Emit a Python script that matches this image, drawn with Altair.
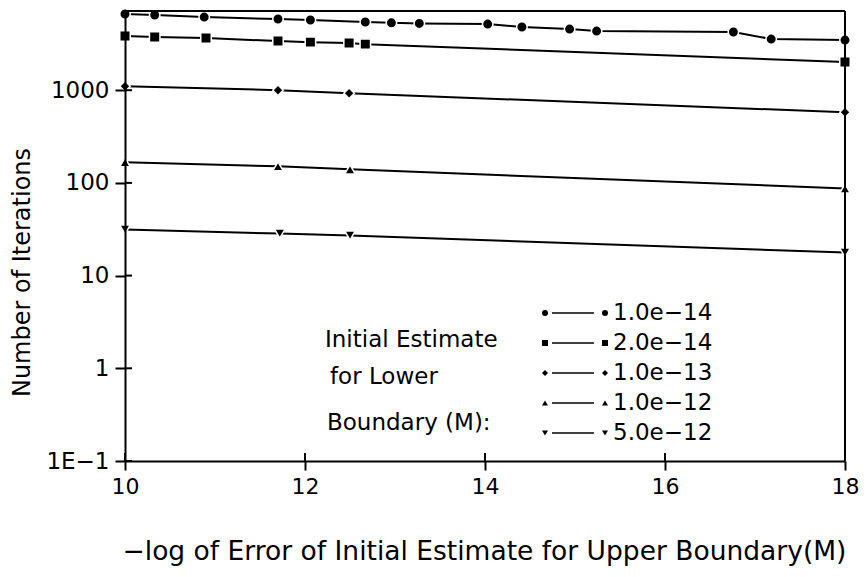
import altair as alt
import pandas as pd

FONT = "DejaVu Sans"

# ---- data ----
labels = ["1.0e\u221214", "2.0e\u221214", "1.0e\u221213", "1.0e\u221212", "5.0e\u221212"]
shapes = ["circle", "square", "diamond", "triangle-up", "triangle-down"]
sizes = [110, 110, 100, 100, 90]

x1 = [10.0, 10.33, 10.88, 11.70, 12.06, 12.67, 12.96, 13.27, 14.03, 14.41, 14.94, 15.24, 16.76, 17.18, 18.0]
y1 = [6640, 6470, 6150, 5860, 5720, 5440, 5330, 5250, 5170, 4800, 4560, 4340, 4240, 3560, 3470]
x2 = [10.0, 10.33, 10.9, 11.70, 12.06, 12.49, 12.67, 18.0]
y2 = [3840, 3740, 3650, 3390, 3300, 3220, 3140, 2010]
x3 = [10.0, 11.70, 12.49, 18.0]
y3 = [1105, 1000, 928, 578]
x4 = [10.0, 11.70, 12.50, 18.0]
y4 = [167, 151, 140, 87]
x5 = [10.0, 11.72, 12.50, 18.0]
y5 = [31.4, 28.4, 27.1, 17.7]

x_ticks = [10, 12, 14, 16, 18]
y_ticks = [0.1, 1, 10, 100, 1000]

legend_title = ["Initial Estimate", "for Lower", "Boundary (M):"]

rows = []
for lab, xs, ys in zip(labels, [x1, x2, x3, x4, x5], [y1, y2, y3, y4, y5]):
    for xv, yv in zip(xs, ys):
        rows.append({"series": lab, "x": xv, "y": yv})
df = pd.DataFrame(rows)

W, H = 720, 450
xscale = alt.Scale(domain=[10, 18], nice=False, zero=False)
yscale = alt.Scale(type="log", domain=[0.1, 7150], nice=False)

x_enc = alt.X(
    "x:Q", scale=xscale,
    axis=alt.Axis(
        values=x_ticks, format="d", grid=False, zindex=1, labelFlush=False,
        labelFont=FONT, labelFontSize=22, labelColor="black", labelPadding=6,
        tickSize=9, tickWidth=2, tickColor="black",
        domainColor="black", domainWidth=2,
        title="\u2212log of Error of Initial Estimate for Upper Boundary(M)",
        titleFont=FONT, titleFontSize=26.5, titleFontWeight="normal", titleColor="black",
        titleX=359, titleY=90, titleBaseline="middle",
    ),
)
y_enc = alt.Y(
    "y:Q", scale=yscale,
    axis=alt.Axis(
        values=y_ticks, grid=False, zindex=1, labelFlush=False,
        labelExpr="datum.value < 0.5 ? '1E\u22121' : format(datum.value, 'd')",
        labelFont=FONT, labelFontSize=23, labelColor="black", labelPadding=6,
        tickSize=10, tickWidth=2, tickColor="black",
        domainColor="black", domainWidth=2,
        title="Number of Iterations",
        titleFont=FONT, titleFontSize=24, titleFontWeight="normal", titleColor="black",
        titleX=-103, titleY=261, titleBaseline="middle",
    ),
)

base = alt.Chart(df)
lines = base.mark_line(color="black", strokeWidth=2).encode(x=x_enc, y=y_enc, detail="series:N")
points = base.mark_point(filled=True, fill="black", stroke="white", strokeWidth=1.5, opacity=1).encode(
    x=alt.X("x:Q"),
    y=alt.Y("y:Q"),
    shape=alt.Shape("series:N", scale=alt.Scale(domain=labels, range=shapes), legend=None),
    size=alt.Size("series:N", scale=alt.Scale(domain=labels, range=sizes), legend=None),
)

one = pd.DataFrame({"a": [0]})
ytick_in = alt.Chart(pd.DataFrame({"y": y_ticks})).mark_rule(color="black", strokeWidth=2).encode(
    y=alt.Y("y:Q"), x=alt.value(0), x2=alt.value(7))
xtick_in = alt.Chart(pd.DataFrame({"x": x_ticks})).mark_rule(color="black", strokeWidth=2).encode(
    x=alt.X("x:Q"), y=alt.value(H), y2=alt.value(H - 8))
frame_top = alt.Chart(one).mark_rule(color="black", strokeWidth=2).encode(
    x=alt.value(0), x2=alt.value(W), y=alt.value(0))
frame_right = alt.Chart(one).mark_rule(color="black", strokeWidth=2).encode(
    x=alt.value(W), y=alt.value(0), y2=alt.value(H))

layers = [lines, points, ytick_in, xtick_in, frame_top, frame_right]

# ---- legend (layout in plot pixels) ----
leg_rows = [302, 332, 362, 392, 422]
for lab, shp, ry in zip(labels, shapes, leg_rows):
    layers.append(alt.Chart(one).mark_rule(color="black", strokeWidth=1.5).encode(
        x=alt.value(427), x2=alt.value(469), y=alt.value(ry)))
    for px in (420, 480):
        layers.append(alt.Chart(one).mark_point(shape=shp, filled=True, fill="black", size=36, opacity=1).encode(
            x=alt.value(px), y=alt.value(ry)))
    layers.append(alt.Chart(one).mark_text(text=lab, align="left", baseline="middle", font=FONT,
                                           fontSize=23, color="black").encode(
        x=alt.value(488), y=alt.value(ry)))

for txt, tx, ty in zip(legend_title, [200, 205, 202], [329, 366, 412]):
    layers.append(alt.Chart(one).mark_text(text=txt, align="left", baseline="middle", font=FONT,
                                           fontSize=23, color="black").encode(
        x=alt.value(tx), y=alt.value(ty)))

chart = alt.layer(*layers).properties(
    width=W, height=H,
    padding={"left": 117, "top": 3, "right": 14, "bottom": 108},
    autosize=alt.AutoSizeParams(type="none"),
).configure_view(stroke=None).configure(background="white")

chart.save("out.html", embed_options={"renderer": "svg", "actions": False})
